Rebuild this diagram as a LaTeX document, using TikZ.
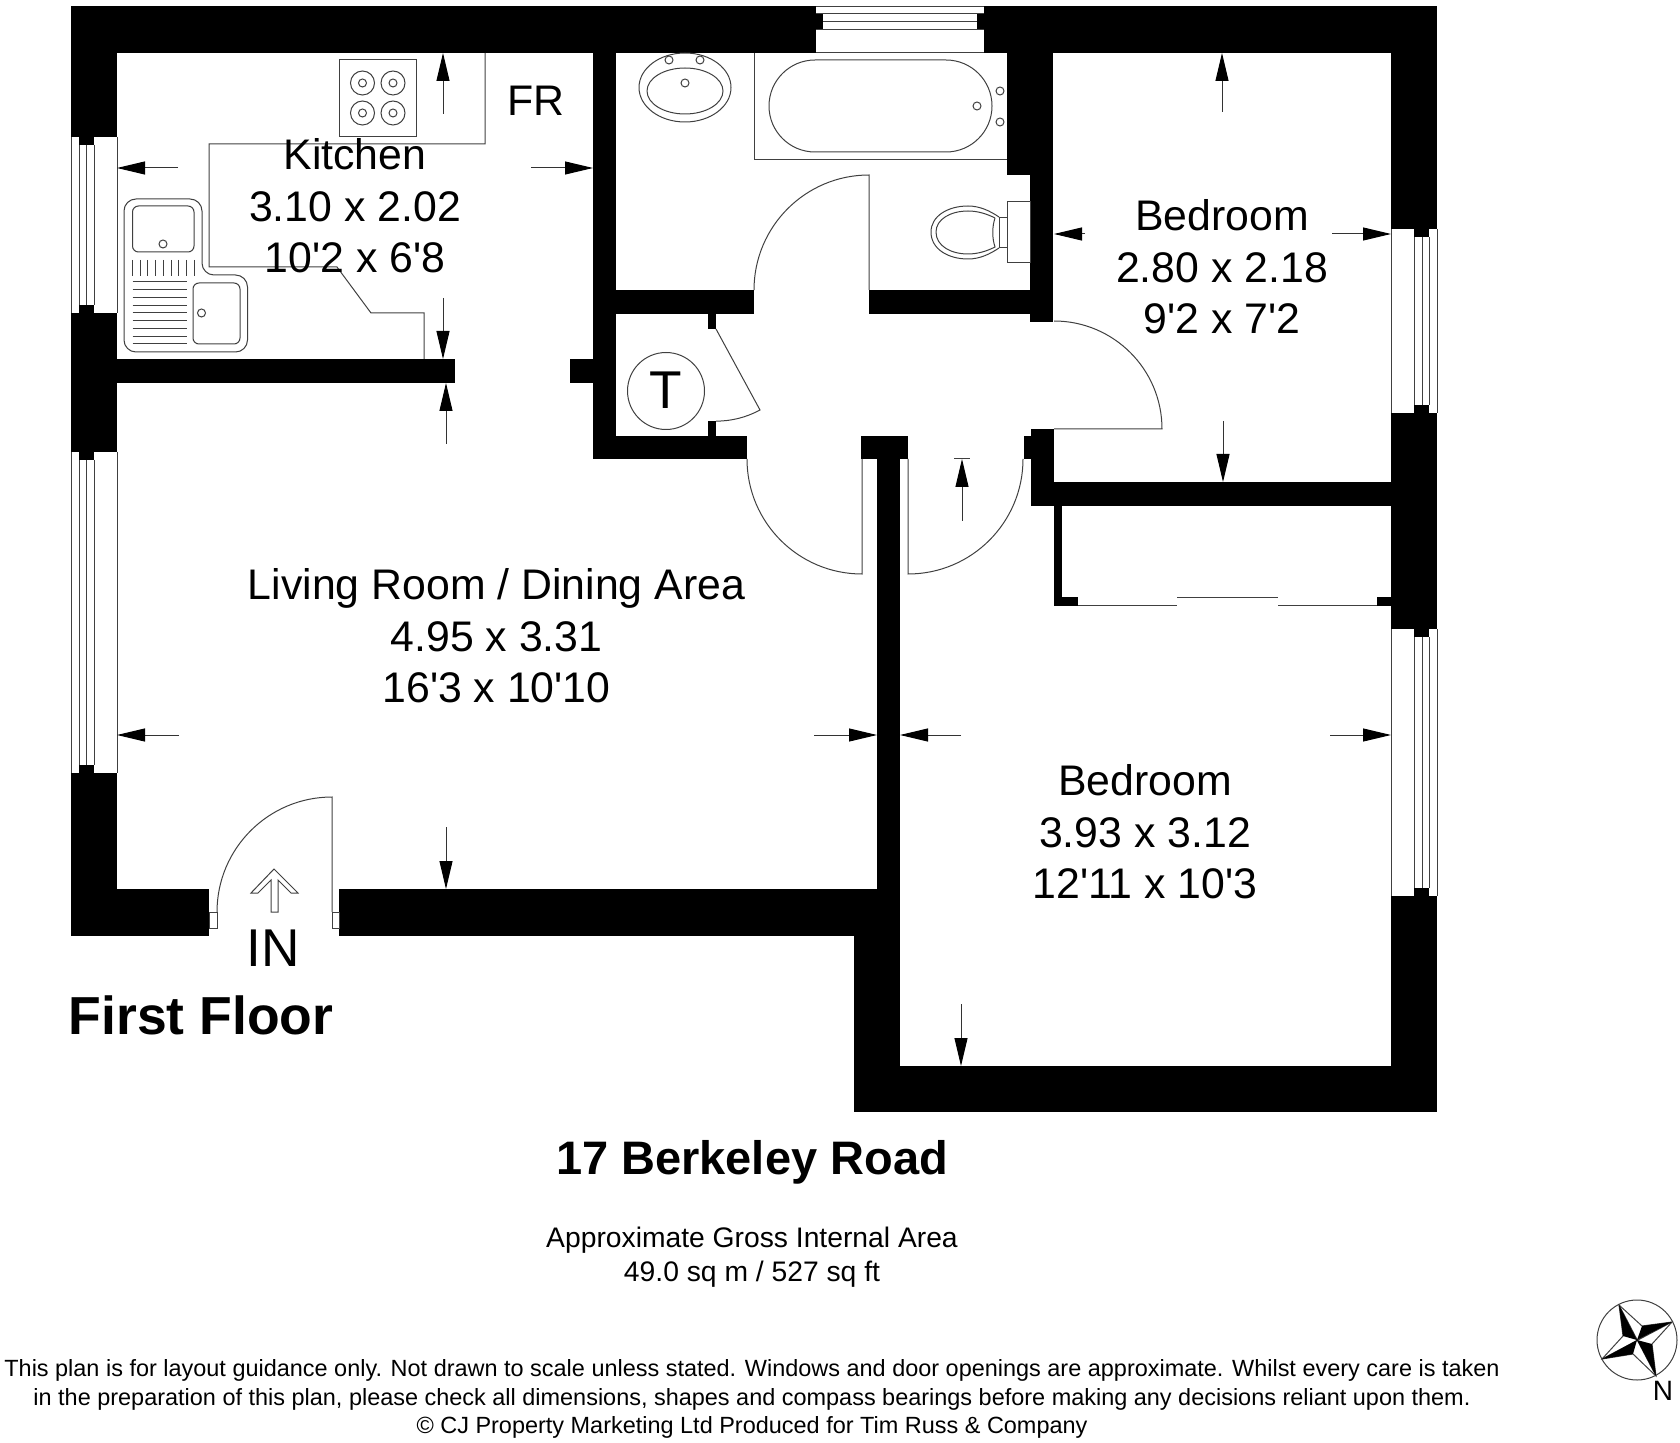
\documentclass[tikz,border=0pt]{standalone}
\usepackage{fontspec}
\usetikzlibrary{arrows.meta}
\newfontfamily\planfont{Liberation Sans}
\tikzset{
    wall/.style={fill=black},
    fine/.style={draw=black!75,line width=.5pt},
    dimarrow/.style={draw=black!80,line width=.5pt,-{Triangle[length=14pt,width=6.5pt,black]}},
    roomlabel/.style={inner sep=0pt,align=center,font=\planfont\fontsize{21.4}{25.7}\selectfont},
    smalllabel/.style={inner sep=0pt,align=center,font=\planfont\fontsize{14.13}{17}\selectfont},
    finelabel/.style={inner sep=0pt,align=center,font=\planfont\fontsize{11.73}{14.2}\selectfont},
    boldlabel/.style={inner sep=0pt,font=\planfont\bfseries\fontsize{23.5}{27}\selectfont}
}
\begin{document}
\begin{tikzpicture}[x=.5pt,y=-.5pt]
            \useasboundingbox (0,0) rectangle (1680,1443);

            %outer walls
            \fill[wall] (71,6) rectangle (1437,53);
            \fill[wall] (71,6) rectangle (117,936);
            \fill[wall] (1391,6) rectangle (1437,1112);
            \fill[wall] (71,889) rectangle (209,936);
            \fill[wall] (339,889) rectangle (900,936);
            \fill[wall] (854,889) rectangle (900,1112);
            \fill[wall] (854,1066) rectangle (1437,1112);

            %inner walls
            \fill[wall] (71,359) rectangle (455,383);
            \fill[wall] (570,359) rectangle (616,383);
            \fill[wall] (593,53) rectangle (616,459);
            \fill[wall] (593,290) rectangle (754,314);
            \fill[wall] (869,290) rectangle (1053,314);
            \fill[wall] (593,436) rectangle (747,459);
            \fill[wall] (708,314) rectangle (716,329);
            \fill[wall] (708,421) rectangle (716,436);
            \fill[wall] (1007,53) rectangle (1053,175);
            \fill[wall] (1030,175) rectangle (1053,322);
            \fill[wall] (861,436) rectangle (908,459);
            \fill[wall] (877,459) rectangle (900,889);
            \fill[wall] (1024,436) rectangle (1054,459);
            \fill[wall] (1031,429) rectangle (1054,506);
            \fill[wall] (1031,482) rectangle (1391,506);
            \fill[wall] (1054,506) rectangle (1062,606);
            \fill[wall] (1054,597) rectangle (1078,606);
            \fill[wall] (1377,597) rectangle (1391,606);

            %side windows
            \foreach \ya/\yb in {137/313,452/773}
            {
                \fill[white] (71,\ya) rectangle (117,\yb);
                \fill[wall] (79,\ya) rectangle (94,\ya+8);
                \fill[wall] (79,\yb-8) rectangle (94,\yb);
                \foreach \x in {71,117}
                {
                    \draw[fine] (\x,\ya) -- (\x,\yb);
                }
                \foreach \x in {79,86.5,94}
                {
                    \draw[fine] (\x,\ya+8) -- (\x,\yb-8);
                }
            }
            \foreach \ya/\yb in {229/413,629/896}
            {
                \fill[white] (1391,\ya) rectangle (1437,\yb);
                \fill[wall] (1414,\ya) rectangle (1429,\ya+8);
                \fill[wall] (1414,\yb-8) rectangle (1429,\yb);
                \foreach \x in {1391,1437}
                {
                    \draw[fine] (\x,\ya) -- (\x,\yb);
                }
                \foreach \x in {1414,1422,1429}
                {
                    \draw[fine] (\x,\ya+8) -- (\x,\yb-8);
                }
            }

            %top window
            \fill[white] (816,6) rectangle (984,53);
            \fill[wall] (816,14) rectangle (823,30);
            \fill[wall] (977,14) rectangle (984,30);
            \fill[white] (816,30) rectangle (984,53);
            \draw[fine] (816,7) -- (984,7);
            \draw[fine] (816,14) -- (984,14);
            \draw[fine] (823,22) -- (977,22);
            \draw[fine] (816,30) -- (984,30);
            \draw[fine] (816,53) -- (984,53);

            %kitchen units
            \draw[fine] (485,53) -- (485,144) -- (209,144) -- (209,267) -- (337,267) -- (371,313) -- (424,313) -- (424,359);
            \draw[fine] (339,60) rectangle (416,137);
            \foreach \x in {362.5,393}
            {
                \foreach \y in {83,113}
                {
                    \draw[fine] (\x,\y) circle (12);
                    \draw[fine] (\x,\y) circle (4);
                }
            }

            %sink
            \fill[white] (124,199) rectangle (202,352);
            \draw[fine,rounded corners=6] (124,199) -- (202,199) -- (202,275) -- (247.5,275) -- (247.5,352) -- (124,352) -- cycle;
            \draw[fine,rounded corners=3] (132.5,206) rectangle (194,252);
            \draw[fine,rounded corners=3] (193,283) rectangle (240,344);
            \draw[fine] (163,244) circle (4);
            \draw[fine] (201.5,313) circle (4);
            \foreach \x in {0,...,8}
            {
                \draw[fine] (132.5 + \x*7.7,260) -- (132.5 + \x*7.7,276);
            }
            \foreach \y in {0,...,8}
            {
                \draw[fine] (132.5,282 + \y*7.75) -- (187,282 + \y*7.75);
            }

            %bathroom
            \draw[fine] (685,87.5) ellipse [x radius=46,y radius=34.5];
            \draw[fine] (685,91) ellipse [x radius=38,y radius=23];
            \foreach \x/\y in {669/60,700/60,685/83,977/106,1000/91,1000/122}
            {
                \draw[fine] (\x,\y) circle (4);
            }
            \draw[fine] (754,53) -- (754,160) -- (1007,160);
            \draw[fine] (815,60) -- (946,60) arc (-90:90:46) -- (815,152) arc (90:270:46) -- cycle;
            \draw[fine] (1007,202) rectangle (1030,263);
            \draw[fine] (999,217.5) rectangle (1007,248);
            \draw[fine] (999,217) .. controls (990,211) and (980,206) .. (968,206) .. controls (948,206) and (931,216) .. (931,232) .. controls (931,249) and (948,259) .. (968,259) .. controls (980,259) and (990,254) .. (999,248);
            \draw[fine] (995,218) .. controls (987,214) and (978,211) .. (968,211) .. controls (951,211) and (936,219) .. (936,232) .. controls (936,246) and (951,254) .. (968,254) .. controls (978,254) and (987,251) .. (995,247) .. controls (992,238) and (992,227) .. (995,218);

            %doors
            \draw[fine] (869,290) -- (869,175) arc (270:180:115);
            \draw[fine] (332,912) -- (332,797) arc (270:180:115);
            \draw[fine] (747,459) arc (180:90:115) -- (862,459);
            \draw[fine] (908,459) -- (908,574) arc (90:0:115);
            \draw[fine] (1054,429) -- (1162,429) arc (0:-90:108);
            \draw[fine] (716,329) -- (760,410) arc (61.5:90:92);
            \draw[fine] (209,912) rectangle (217,928);
            \draw[fine] (332,912) rectangle (339,928);

            %wardrobe doors
            \draw[fine] (1078,605) -- (1177,605);
            \draw[fine] (1177,597) -- (1278,597);
            \draw[fine] (1278,605) -- (1377,605);

            %way in
            \draw[fine] (274,869) -- (298,893) -- (291,893) -- (278,880) -- (278,912) -- (271,912) -- (271,880) -- (258,893) -- (251,893) -- cycle;

            %room size arrows
            \foreach \xa/\ya/\xb/\yb in {178/168/117/168,531/168/593/168,443/114/443/53,443/298/443/359,446/444/446/383,
                179/735/117/735,814/735/877/735,961/735/900/735,1330/735/1391/735,446/827/446/889,961/1004/961/1066,
                1222/112/1222/53,1085/234/1054/234,1332/234/1391/234,1223/421/1223/482,962/521/962/459}
            {
                \draw[dimarrow] (\xa,\ya) -- (\xb,\yb);
            }
            \draw[fine] (954,459) -- (970,459);

            %tank
            \draw[fine] (666,391) circle (38.5);
            \node[inner sep=0pt,font=\planfont\fontsize{26.6}{30}\selectfont] (tank) at (666,390) {T};

            %compass
            \draw[fine] (1637,1340) circle (40);
            \draw[fine] (1619,1305) -- (1642,1326) -- (1672,1322) -- (1652,1344) -- (1656,1376) -- (1633,1354) -- (1602,1359) -- (1623,1336) -- cycle;
            \draw[fine] (1619,1305) -- (1656,1376);
            \draw[fine] (1672,1322) -- (1602,1359);
            \fill[black] (1619,1305) -- (1637,1340) -- (1623,1336) -- cycle;
            \fill[black] (1672,1322) -- (1637,1340) -- (1642,1326) -- cycle;
            \fill[black] (1656,1376) -- (1637,1340) -- (1652,1344) -- cycle;
            \fill[black] (1602,1359) -- (1637,1340) -- (1633,1354) -- cycle;
            \node[inner sep=0pt,font=\planfont\fontsize{14}{16}\selectfont] (north) at (1663,1391) {N};

            %labels
            \node[roomlabel] (kitchen) at (355,206) {Kitchen\\3.10 x 2.02\\10'2 x 6'8};
            \node[roomlabel] (fridge) at (536,101) {FR};
            \node[roomlabel] (bedroomone) at (1222,267) {Bedroom\\2.80 x 2.18\\9'2 x 7'2};
            \node[roomlabel] (living) at (496.5,636) {Living Room / Dining Area\\4.95 x 3.31\\16'3 x 10'10};
            \node[roomlabel] (bedroomtwo) at (1145,832) {Bedroom\\3.93 x 3.12\\12'11 x 10'3};
            \node[inner sep=0pt,font=\planfont\fontsize{26.6}{30}\selectfont] (way) at (273,948) {IN};
            \node[inner sep=0pt,font=\planfont\bfseries\fontsize{26.75}{30}\selectfont] (floor) at (201,1015) {First Floor};
            \node[boldlabel] (address) at (752,1162) {17 Berkeley Road};
            \node[smalllabel] (area) at (752,1257) {Approximate Gross Internal Area\\49.0 sq m / 527 sq ft};
            \node[finelabel] (notice) at (752,1399) {This plan is for layout guidance only. Not drawn to scale unless stated. Windows and door openings are approximate. Whilst every care is taken\\in the preparation of this plan, please check all dimensions, shapes and compass bearings before making any decisions reliant upon them.\\© CJ Property Marketing Ltd Produced for Tim Russ \& Company};
        \end{tikzpicture}
\end{document}
